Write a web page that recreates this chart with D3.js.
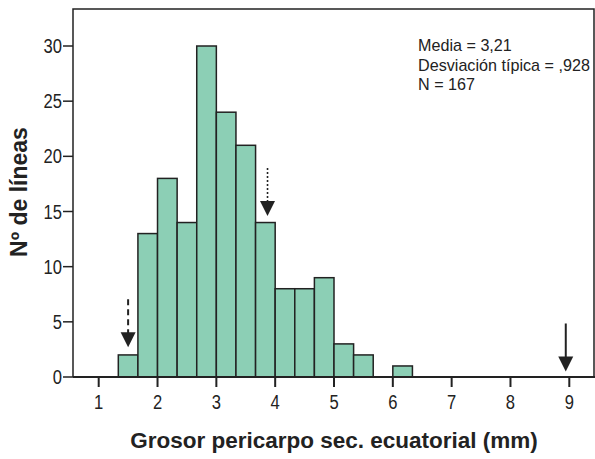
<!DOCTYPE html>
<html>
<head>
<meta charset="utf-8">
<script src="https://cdn.jsdelivr.net/npm/d3@7"></script>
<style>
  body { margin: 0; background: #fff; }
  text { font-family: "Liberation Sans", Arial, sans-serif; fill: #222; }
</style>
</head>
<body>
<div id="chart"></div>
<script>
// histogram bins (lower edge, width 1/3 mm) and counts
const binStarts = [4/3, 5/3, 2, 7/3, 8/3, 3, 10/3, 11/3, 4, 13/3, 14/3, 5, 16/3, 17/3, 6];
const counts = [2, 13, 18, 14, 30, 24, 21, 14, 8, 8, 9, 3, 2, 0, 1];
const binWidth = 1 / 3;
const xTicks = [1, 2, 3, 4, 5, 6, 7, 8, 9];
const yTicks = [0, 5, 10, 15, 20, 25, 30];
const statLines = ['Media = 3,21', 'Desviación típica = ,928', 'N = 167'];
// arrows: x position and the count level where the tip sits
const arrowX = [1.5, 3.87, 8.94];
const arrowTip = [2.7, 14.6, 0.5];
const arrowDash = ['6,4', '2,2', null];

const width = 595,
    height = 459,
    frame = { left: 73, top: 9, right: 594, bottom: 377 };

const svg = d3.select('#chart')
    .append('svg')
    .attr('width', width)
    .attr('height', height);

const x = d3.scaleLinear().domain([1, 9]).range([98.7, 569.3]);
const y = d3.scaleLinear().domain([0, 30]).range([377, 46]);

// frame
svg.append('path')
    .attr('d', `M${frame.left},${frame.bottom}V${frame.top}H${frame.right}V${frame.bottom}`)
    .attr('fill', 'none')
    .attr('stroke', '#222')
    .attr('stroke-width', 1.5);

// bars
svg.selectAll('.bar')
    .data(counts.map((c, i) => ({ x0: binStarts[i], count: c })).filter(d => d.count > 0))
    .enter().append('rect')
    .classed('bar', true)
    .attr('x', d => x(d.x0))
    .attr('y', d => y(d.count))
    .attr('width', d => x(d.x0 + binWidth) - x(d.x0))
    .attr('height', d => y(0) - y(d.count))
    .attr('fill', '#8ccfb5')
    .attr('stroke', '#222')
    .attr('stroke-width', 1.5);

// x axis line
svg.append('line')
    .attr('x1', frame.left).attr('x2', width)
    .attr('y1', y(0)).attr('y2', y(0))
    .attr('stroke', '#222').attr('stroke-width', 2);

// x ticks
svg.selectAll('.xtick')
    .data(xTicks)
    .enter().append('line')
    .attr('x1', d => x(d)).attr('x2', d => x(d))
    .attr('y1', y(0)).attr('y2', y(0) + 10)
    .attr('stroke', '#222').attr('stroke-width', 2);

svg.selectAll('.xlabel')
    .data(xTicks)
    .enter().append('text')
    .attr('transform', d => `translate(${x(d)},${y(0) + 31.5}) scale(0.85,1)`)
    .attr('text-anchor', 'middle')
    .style('font-size', '19.5px')
    .text(d => d);

// y ticks
svg.selectAll('.ytick')
    .data(yTicks)
    .enter().append('line')
    .attr('x1', frame.left - 10).attr('x2', frame.left)
    .attr('y1', d => y(d)).attr('y2', d => y(d))
    .attr('stroke', '#222').attr('stroke-width', 1.5);

svg.selectAll('.ylabel')
    .data(yTicks)
    .enter().append('text')
    .attr('transform', d => `translate(${frame.left - 11},${y(d) + 7}) scale(0.85,1)`)
    .attr('text-anchor', 'end')
    .style('font-size', '19.5px')
    .text(d => d);

// axis titles
svg.append('text')
    .attr('x', 334).attr('y', 448)
    .attr('text-anchor', 'middle')
    .style('font-size', '22.5px')
    .style('font-weight', 'bold')
    .text('Grosor pericarpo sec. ecuatorial (mm)');

svg.append('text')
    .attr('transform', 'translate(27,192) rotate(-90)')
    .attr('text-anchor', 'middle')
    .style('font-size', '23px')
    .style('font-weight', 'bold')
    .text('Nº de líneas');

// stats box
svg.selectAll('.stat')
    .data(statLines)
    .enter().append('text')
    .attr('transform', (d, i) => `translate(418,${51 + i * 19.5}) scale(0.95,1)`)
    .style('font-size', '17px')
    .text(d => d);

// arrows
const arrowLen = 48, headH = 15, headW = 15;
arrowX.forEach((v, i) => {
    const ax = x(v), tip = y(arrowTip[i]);
    svg.append('line')
        .attr('x1', ax).attr('x2', ax)
        .attr('y1', tip - arrowLen).attr('y2', tip - headH + 1)
        .attr('stroke', '#222')
        .attr('stroke-width', i === 1 ? 1.6 : 2)
        .attr('stroke-dasharray', arrowDash[i]);
    svg.append('path')
        .attr('d', `M${ax - headW / 2},${tip - headH}H${ax + headW / 2}L${ax},${tip}Z`)
        .attr('fill', '#222');
});
</script>
</body>
</html>
